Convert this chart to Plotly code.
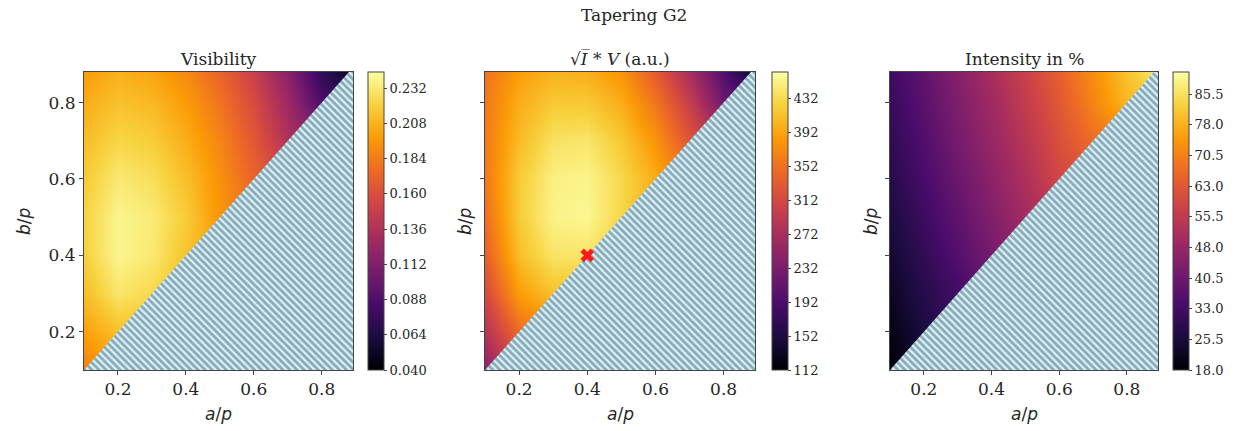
import plotly.graph_objects as go

# ---------------- data ----------------
A_GRID = [0.1, 0.2, 0.3, 0.4, 0.5, 0.6, 0.7, 0.8, 0.9]   # a/p
B_GRID = [0.1, 0.2, 0.3, 0.4, 0.5, 0.6, 0.7, 0.8, 0.9]   # b/p (rows)
N = None

VISIBILITY = [
    [0.185, N, N, N, N, N, N, N, N],
    [0.200, 0.213, N, N, N, N, N, N, N],
    [0.212, 0.230, 0.224, N, N, N, N, N, N],
    [0.220, 0.238, 0.232, 0.214, N, N, N, N, N],
    [0.221, 0.238, 0.233, 0.218, 0.195, N, N, N, N],
    [0.218, 0.232, 0.227, 0.213, 0.193, 0.172, N, N, N],
    [0.212, 0.223, 0.219, 0.206, 0.188, 0.165, 0.136, N, N],
    [0.205, 0.214, 0.210, 0.198, 0.180, 0.157, 0.126, 0.086, N],
    [0.197, 0.205, 0.200, 0.188, 0.170, 0.147, 0.113, 0.070, 0.035],
]

SQRT_I_V = [
    [246, N, N, N, N, N, N, N, N],
    [282, 346, N, N, N, N, N, N, N],
    [312, 386, 412, N, N, N, N, N, N],
    [337, 410, 440, 440, N, N, N, N, N],
    [350, 420, 452, 456, 428, N, N, N, N],
    [358, 420, 450, 454, 430, 398, N, N, N],
    [360, 408, 438, 441, 418, 380, 325, N, N],
    [358, 398, 418, 418, 398, 356, 298, 220, N],
    [352, 385, 398, 394, 376, 328, 262, 190, 108],
]

INTENSITY = [
    [18.0, N, N, N, N, N, N, N, N],
    [20.0, 26.0, N, N, N, N, N, N, N],
    [22.0, 28.0, 33.0, N, N, N, N, N, N],
    [24.0, 30.0, 36.0, 42.0, N, N, N, N, N],
    [26.0, 32.0, 38.0, 44.0, 50.0, N, N, N, N],
    [28.0, 34.0, 40.0, 46.0, 52.0, 59.0, N, N, N],
    [29.5, 35.5, 42.0, 48.0, 54.0, 61.0, 67.0, N, N],
    [31.0, 37.0, 43.5, 49.5, 56.0, 63.0, 71.0, 79.0, N],
    [32.5, 38.5, 45.0, 51.5, 58.0, 65.0, 73.0, 81.0, 90.0],
]

OPT_A = [0.4]
OPT_B = [0.4]

VIS_TICKS = [0.040, 0.064, 0.088, 0.112, 0.136, 0.160, 0.184, 0.208, 0.232]
SIV_TICKS = [112, 152, 192, 232, 272, 312, 352, 392, 432]
INT_TICKS = [18.0, 25.5, 33.0, 40.5, 48.0, 55.5, 63.0, 70.5, 78.0, 85.5]

VIS_RANGE = [0.040, 0.243]
SIV_RANGE = [112, 463]
INT_RANGE = [18.0, 90.9]

X_TICKS = [0.2, 0.4, 0.6, 0.8]
Y_TICKS = [0.2, 0.4, 0.6, 0.8]
X_RANGE = [0.1, 0.892]
Y_RANGE = [0.1, 0.88]

TITLES = ["Visibility", "\u221a<i>I\u0305</i> * <i>V</i> (a.u.)", "Intensity in %"]
SUPTITLE = "Tapering G2"

# ---------------- layout geometry (pixels) ----------------
W, H = 1244, 431
PANEL_X = [(84, 353), (485, 755), (890, 1158)]
CBAR_X = [368, 772, 1173]
TOP, BOTTOM = 72, 370
YLAB_X = [24, 465, 871]

SERIF = "DejaVu Serif"
SANS = "DejaVu Sans"
TXT = "#262626"


def fx(p):
    return p / W


def fy(p):
    return 1 - p / H


fig = go.Figure()

datasets = [
    (VISIBILITY, VIS_RANGE, VIS_TICKS, [f"{v:.3f}" for v in VIS_TICKS]),
    (SQRT_I_V, SIV_RANGE, SIV_TICKS, [f"{v:d}" for v in SIV_TICKS]),
    (INTENSITY, INT_RANGE, INT_TICKS, [f"{v:.1f}" for v in INT_TICKS]),
]

for i, (z, rng, tv, tt) in enumerate(datasets):
    sfx = "" if i == 0 else str(i + 1)
    xa, ya = "x" + sfx, "y" + sfx
    fig.add_trace(go.Heatmap(
        x=A_GRID, y=B_GRID, z=z, zsmooth="best", connectgaps=True,
        colorscale="Inferno", zmin=rng[0], zmax=rng[1],
        xaxis=xa, yaxis=ya, hoverinfo="skip",
        colorbar=dict(
            x=fx(CBAR_X[i]), xanchor="left", xpad=0, ypad=0,
            y=fy(TOP), yanchor="top", len=(BOTTOM - TOP) / H, lenmode="fraction",
            thickness=16, thicknessmode="pixels",
            outlinewidth=1, outlinecolor="#444",
            tickvals=tv, ticktext=tt, ticks="outside", ticklen=3,
            tickcolor="#444",
            tickfont=dict(family=SERIF, size=13, color=TXT),
        ),
    ))
    # masked region (b < a), drawn with a hatch pattern
    fig.add_trace(go.Scatter(
        x=[X_RANGE[0], X_RANGE[1], X_RANGE[1], Y_RANGE[1], X_RANGE[0]],
        y=[Y_RANGE[0], Y_RANGE[0], Y_RANGE[1], Y_RANGE[1], Y_RANGE[0]],
        mode="lines", fill="toself", line=dict(width=0),
        fillcolor="rgba(0,0,0,0)",
        fillpattern=dict(shape="\\", bgcolor="#dcf2f8", fgcolor="#335f74",
                         size=5, solidity=0.55),
        xaxis=xa, yaxis=ya, hoverinfo="skip", showlegend=False,
    ))

# optimum marker on the middle panel
fig.add_trace(go.Scatter(
    x=OPT_A, y=OPT_B, mode="markers", xaxis="x2", yaxis="y2",
    marker=dict(symbol="x", size=12, color="#ff1a1a", line=dict(width=0)),
    showlegend=False, hoverinfo="skip",
))

layout = dict(
    width=W, height=H, margin=dict(l=0, r=0, t=0, b=0),
    paper_bgcolor="white", plot_bgcolor="white", showlegend=False,
)
annotations = []
for i in range(3):
    sfx = "" if i == 0 else str(i + 1)
    x0, x1 = PANEL_X[i]
    layout["xaxis" + sfx] = dict(
        domain=[fx(x0), fx(x1)], range=X_RANGE, anchor="y" + sfx,
        tickvals=X_TICKS, ticktext=[f"{v:.1f}" for v in X_TICKS],
        ticks="outside", ticklen=4, tickcolor="#444",
        showline=True, mirror=True, linecolor="#444", linewidth=1,
        showgrid=False, zeroline=False,
        tickfont=dict(family=SERIF, size=17, color=TXT),
    )
    layout["yaxis" + sfx] = dict(
        domain=[fy(BOTTOM), fy(TOP)], range=Y_RANGE, anchor="x" + sfx,
        tickvals=Y_TICKS, ticktext=[f"{v:.1f}" for v in Y_TICKS],
        showticklabels=(i == 0),
        ticks="outside", ticklen=4, tickcolor="#444",
        showline=True, mirror=True, linecolor="#444", linewidth=1,
        showgrid=False, zeroline=False,
        tickfont=dict(family=SERIF, size=17, color=TXT),
    )
    cx = (x0 + x1) / 2
    annotations.append(dict(
        text=TITLES[i], x=fx(cx), y=fy(59), xref="paper", yref="paper",
        showarrow=False, xanchor="center", yanchor="middle",
        font=dict(family=SERIF, size=17, color=TXT),
    ))
    annotations.append(dict(
        text="<i>a</i>/<i>p</i>", x=fx(cx), y=fy(414), xref="paper", yref="paper",
        showarrow=False, xanchor="center", yanchor="middle",
        font=dict(family=SANS, size=17, color=TXT),
    ))
    annotations.append(dict(
        text="<i>b</i>/<i>p</i>", x=fx(YLAB_X[i]), y=fy((TOP + BOTTOM) / 2),
        xref="paper", yref="paper", textangle=-90,
        showarrow=False, xanchor="center", yanchor="middle",
        font=dict(family=SANS, size=17, color=TXT),
    ))

annotations.append(dict(
    text=SUPTITLE, x=fx(634), y=fy(15), xref="paper", yref="paper",
    showarrow=False, xanchor="center", yanchor="middle",
    font=dict(family=SERIF, size=17, color=TXT),
))
layout["annotations"] = annotations
fig.update_layout(**layout)

fig.write_html("out.html")
